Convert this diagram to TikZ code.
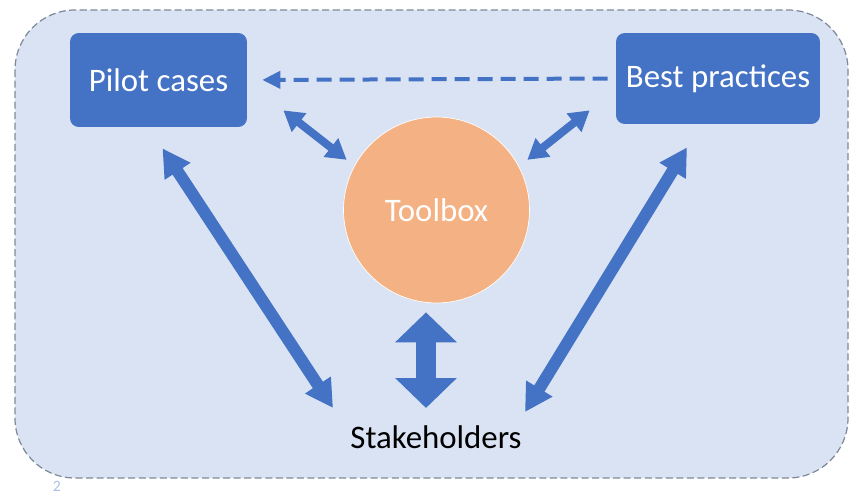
\documentclass[tikz,border=0pt]{standalone}
\usepackage{fontspec}
\setmainfont{Carlito}
\usepackage{xcolor}
\usetikzlibrary{positioning,arrows.meta,calc}
\definecolor{boxblue}{HTML}{4472C4}
\definecolor{panel}{HTML}{DAE3F3}
\definecolor{tool}{HTML}{F4B183}
\definecolor{rim}{HTML}{7F8A99}
\tikzset{
  labelfont/.style={font=\fontsize{18.7}{22}\selectfont},
  bluebox/.style={rectangle, rounded corners=5pt, fill=boxblue, text=white, labelfont},
  smallarrow/.style={boxblue, line width=0.16cm, {Triangle[length=0.4cm,width=0.45cm]}-{Triangle[length=0.4cm,width=0.45cm]}},
  longarrow/.style={boxblue, line width=0.24cm, {Triangle[length=0.55cm,width=0.58cm]}-{Triangle[length=0.55cm,width=0.58cm]}},
  fatarrow/.style={boxblue, line width=0.4cm, {Triangle[length=0.6cm,width=1.2cm]}-{Triangle[length=0.6cm,width=1.2cm]}},
}

\begin{document}
\begin{tikzpicture}[x=0.02cm,y=-0.02cm]
    \useasboundingbox (0,0) rectangle (859,493);

    % Panel
    \draw[rim, fill=panel, line width=0.7pt, dash pattern=on 4pt off 2pt, rounded corners=1.2cm] (15,10) rectangle (848,478);

    % Nodes
    \node (pilot) at (158.5,80) [bluebox, minimum width=3.54cm, minimum height=1.88cm] {Pilot cases};
    \node (best) at (718,78.5) [bluebox, minimum width=4.08cm, minimum height=1.82cm] {Best practices};
    \node (toolbox) at (436.5,210) [circle, fill=tool, draw=white, thin, minimum size=3.72cm, text=white, labelfont] {Toolbox};
    \node (stake) at (436,437) [labelfont] {Stakeholders};

    % Dashed link
    \draw[boxblue, line width=0.08cm, dash pattern=on 0.3cm off 0.16cm, -{Triangle[length=0.36cm,width=0.34cm]}, shorten <=0.16cm, shorten >=0.3cm] (best.west) -- (pilot.east);

    % Links to the toolbox
    \draw[smallarrow] ($(pilot.south east)+(36,-17)$) -- ($(toolbox.150)+(-9,-3.5)$);
    \draw[smallarrow] ($(best.south west)+(-26,-14)$) -- ($(toolbox.30)+(10,-3.5)$);

    % Links to the stakeholders
    \draw[longarrow] ($(pilot.south)+(4,21)$) -- ($(stake.center)+(-103,-29)$);
    \draw[longarrow] ($(best.south)+(-31,23)$) -- ($(stake.center)+(89,-25)$);
    \draw[fatarrow] ($(toolbox.south)+(-10.5,9)$) -- ($(stake.center)+(-10,-29)$);

    % Page mark
    \node (mark) at (57,486) [text=boxblue!45, font=\fontsize{9}{10}\selectfont] {2};
\end{tikzpicture}
\end{document}
